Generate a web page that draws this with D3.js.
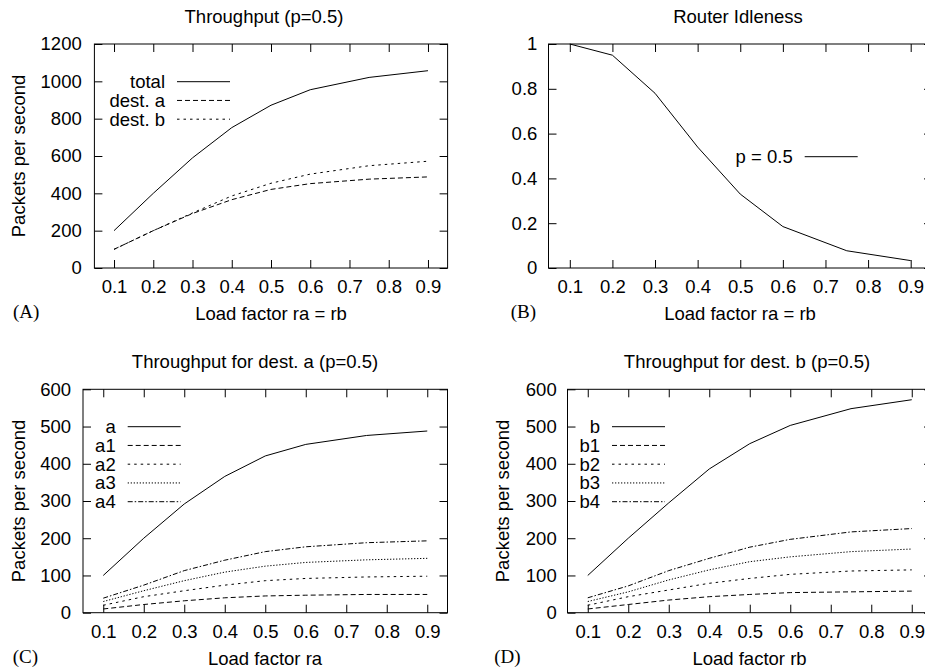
<!DOCTYPE html>
<html>
<head>
<meta charset="utf-8">
<script src="https://cdn.jsdelivr.net/npm/d3@7"></script>
<style>
body { margin: 0; background: #fff; }
svg text { font-family: "Liberation Sans", Arial, Helvetica, sans-serif; font-size: 18.5px; fill: #000; }
</style>
</head>
<body>
<svg id="fig" width="925" height="672"></svg>
<script>
// load factor values where the runs were measured
const loads = [0.1, 0.2, 0.3, 0.4, 0.5, 0.6, 0.75, 0.9];
const xTicks = [0.1, 0.2, 0.3, 0.4, 0.5, 0.6, 0.7, 0.8, 0.9];

// (A) throughput
const total = [200, 400, 590, 752, 872, 955, 1021, 1057];
const destA = [100, 200, 292, 366, 421, 452, 476, 488];
const destB = [100, 200, 295, 386, 454, 503, 548, 572];

// (B) router idleness
const idle = [1.0, 0.95, 0.78, 0.54, 0.33, 0.185, 0.077, 0.033];

// (C) dest. a split by class
const a1 = [10, 22, 32, 40, 45, 47, 49, 49];
const a2 = [20, 43, 59, 74, 86, 92, 96, 98];
const a3 = [30, 59, 86, 109, 125, 135, 142, 146];
const a4 = [39, 74, 113, 141, 164, 177, 188, 193];

// (D) dest. b split by class
const b1 = [10, 22, 34, 43, 49, 54, 56, 58];
const b2 = [20, 43, 61, 79, 92, 103, 112, 115];
const b3 = [30, 56, 88, 115, 137, 150, 164, 171];
const b4 = [40, 72, 113, 146, 176, 197, 217, 226];

const yTicksA = [0, 200, 400, 600, 800, 1000, 1200];
const yTicksB = [0, 0.2, 0.4, 0.6, 0.8, 1];
const yTicksC = [0, 100, 200, 300, 400, 500, 600];

// gnuplot-ish line types
const dash = { lt1: null, lt2: "5,3", lt3: "2.5,4", lt4: "1.3,1.7", lt5: "5,2,1.5,2" };

const svg = d3.select("#fig");

function panel(o) {
  const x = d3.scaleLinear().domain([0.05, 0.95]).range([o.left, o.right]);
  const y = d3.scaleLinear().domain([o.yTicks[0], o.yTicks[o.yTicks.length - 1]]).range([o.bottom, o.top]);
  const g = svg.append("g");

  const fix = sel => sel.attr("font-size", null).attr("font-family", null).call(s => s.select(".domain").remove());

  g.append("g").attr("transform", `translate(0,${o.bottom})`)
    .call(d3.axisBottom(x).tickValues(xTicks).tickSize(-8).tickPadding(12).tickFormat(d3.format(".1f")))
    .call(fix);
  g.append("g").attr("transform", `translate(0,${o.top})`)
    .call(d3.axisTop(x).tickValues(xTicks).tickSize(-8).tickFormat(""))
    .call(fix);
  g.append("g").attr("transform", `translate(${o.left},0)`)
    .call(d3.axisLeft(y).tickValues(o.yTicks).tickSize(-8).tickPadding(o.yPad).tickFormat(o.yFmt))
    .call(fix);
  g.append("g").attr("transform", `translate(${o.right},0)`)
    .call(d3.axisRight(y).tickValues(o.yTicks).tickSize(-8).tickFormat(""))
    .call(fix);

  g.append("rect")
    .attr("x", o.left).attr("y", o.top)
    .attr("width", o.right - o.left).attr("height", o.bottom - o.top)
    .attr("fill", "none").attr("stroke", "#000").attr("stroke-width", 1);

  const line = d3.line().x((d, i) => x(loads[i])).y(d => y(d));
  o.series.forEach((s, k) => {
    g.append("path").datum(s.values)
      .attr("d", line)
      .attr("fill", "none").attr("stroke", "#000").attr("stroke-width", 1)
      .attr("stroke-dasharray", s.dash);
    const ly = o.legY + k * 18.75;
    g.append("text").attr("x", o.legText).attr("y", ly + 6.5)
      .attr("text-anchor", "end").text(s.name);
    g.append("line")
      .attr("x1", o.legText + 12).attr("x2", o.legText + 65)
      .attr("y1", ly).attr("y2", ly)
      .attr("stroke", "#000").attr("stroke-width", 1)
      .attr("stroke-dasharray", s.dash);
  });

  g.append("text").attr("x", o.titleX).attr("y", o.top - 21)
    .attr("text-anchor", "middle").text(o.title);
  g.append("text").attr("x", o.xLabX).attr("y", o.bottom + 52)
    .attr("text-anchor", "middle").text(o.xLabel);
  if (o.yLabel) {
    g.append("text")
      .attr("transform", `translate(${o.yLabX},${(o.top + o.bottom) / 2}) rotate(-90)`)
      .attr("text-anchor", "middle").text(o.yLabel);
  }
  g.append("text").attr("x", o.tagX).attr("y", o.bottom + 50)
    .style("font-family", "'Liberation Serif', 'Times New Roman', serif")
    .style("font-size", "19px").text(o.tag);
}

panel({
  left: 94.4, right: 447.6, top: 44, bottom: 268,
  yTicks: yTicksA, yFmt: d3.format("d"), yPad: 12.7,
  title: "Throughput (p=0.5)", titleX: 264,
  xLabel: "Load factor ra = rb", xLabX: 271,
  yLabel: "Packets per second", yLabX: 25,
  tag: "(A)", tagX: 13,
  legText: 165, legY: 81.7,
  series: [
    { name: "total", values: total, dash: dash.lt1 },
    { name: "dest. a", values: destA, dash: dash.lt2 },
    { name: "dest. b", values: destB, dash: dash.lt3 }
  ]
});

panel({
  left: 548.5, right: 932, top: 44, bottom: 268,
  yTicks: yTicksB, yFmt: v => (v === 0 || v === 1) ? String(v) : v.toFixed(1), yPad: 11.2,
  title: "Router Idleness", titleX: 738,
  xLabel: "Load factor ra = rb", xLabX: 740,
  yLabel: null,
  tag: "(B)", tagX: 510.7,
  legText: 792.7, legY: 156.7,
  series: [
    { name: "p = 0.5", values: idle, dash: dash.lt1 }
  ]
});

panel({
  left: 83, right: 447.5, top: 389.3, bottom: 612.7,
  yTicks: yTicksC, yFmt: d3.format("d"), yPad: 12,
  title: "Throughput for dest. a (p=0.5)", titleX: 255,
  xLabel: "Load factor ra", xLabX: 265,
  yLabel: "Packets per second", yLabX: 25,
  tag: "(C)", tagX: 12.7,
  legText: 115.7, legY: 426.7,
  series: [
    { name: "a", values: destA, dash: dash.lt1 },
    { name: "a1", values: a1, dash: dash.lt2 },
    { name: "a2", values: a2, dash: dash.lt3 },
    { name: "a3", values: a3, dash: dash.lt4 },
    { name: "a4", values: a4, dash: dash.lt5 }
  ]
});

panel({
  left: 567.5, right: 932, top: 389.3, bottom: 612.7,
  yTicks: yTicksC, yFmt: d3.format("d"), yPad: 10.8,
  title: "Throughput for dest. b (p=0.5)", titleX: 747,
  xLabel: "Load factor rb", xLabX: 749.5,
  yLabel: "Packets per second", yLabX: 509,
  tag: "(D)", tagX: 494.3,
  legText: 600, legY: 426.7,
  series: [
    { name: "b", values: destB, dash: dash.lt1 },
    { name: "b1", values: b1, dash: dash.lt2 },
    { name: "b2", values: b2, dash: dash.lt3 },
    { name: "b3", values: b3, dash: dash.lt4 },
    { name: "b4", values: b4, dash: dash.lt5 }
  ]
});
</script>
</body>
</html>
